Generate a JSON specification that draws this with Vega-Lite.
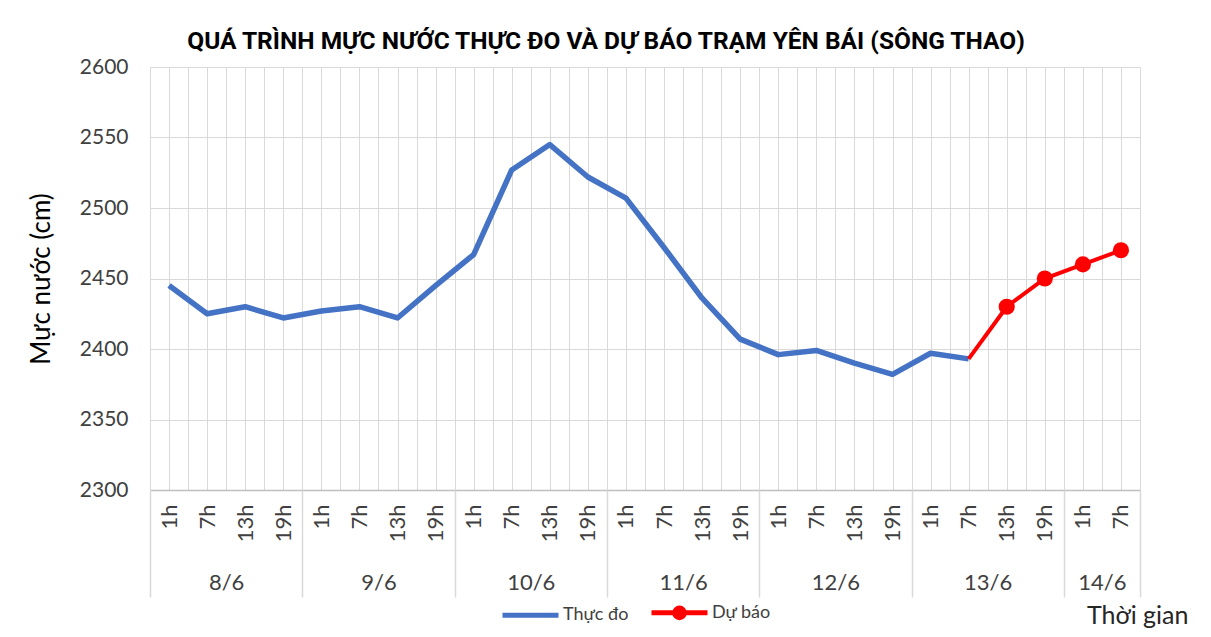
{
  "$schema": "https://vega.github.io/schema/vega-lite/v6.json",
  "autosize": "none",
  "width": 990,
  "height": 423,
  "padding": {"left": 150, "top": 67, "right": 71, "bottom": 147},
  "background": "white",
  "config": {"font": "Lato", "view": {"stroke": null}},
  "title": {
    "text": "QUÁ TRÌNH MỰC NƯỚC THỰC ĐO VÀ DỰ BÁO TRẠM YÊN BÁI (SÔNG THAO)",
    "font": "Liberation Sans Narrow, Roboto",
    "fontSize": 24.5,
    "fontWeight": "bold",
    "color": "#000000",
    "anchor": "middle",
    "dx": -39,
    "offset": 2
  },
  "data": {
    "values": [
      {"t": 0, "date": "8/6", "hour": "1h", "value": 2445, "series": "Thực đo"},
      {"t": 1, "date": "8/6", "hour": "7h", "value": 2425, "series": "Thực đo"},
      {"t": 2, "date": "8/6", "hour": "13h", "value": 2430, "series": "Thực đo"},
      {"t": 3, "date": "8/6", "hour": "19h", "value": 2422, "series": "Thực đo"},
      {"t": 4, "date": "9/6", "hour": "1h", "value": 2427, "series": "Thực đo"},
      {"t": 5, "date": "9/6", "hour": "7h", "value": 2430, "series": "Thực đo"},
      {"t": 6, "date": "9/6", "hour": "13h", "value": 2422, "series": "Thực đo"},
      {"t": 7, "date": "9/6", "hour": "19h", "value": 2445, "series": "Thực đo"},
      {"t": 8, "date": "10/6", "hour": "1h", "value": 2467, "series": "Thực đo"},
      {"t": 9, "date": "10/6", "hour": "7h", "value": 2527, "series": "Thực đo"},
      {"t": 10, "date": "10/6", "hour": "13h", "value": 2545, "series": "Thực đo"},
      {"t": 11, "date": "10/6", "hour": "19h", "value": 2522, "series": "Thực đo"},
      {"t": 12, "date": "11/6", "hour": "1h", "value": 2507, "series": "Thực đo"},
      {"t": 13, "date": "11/6", "hour": "7h", "value": 2472, "series": "Thực đo"},
      {"t": 14, "date": "11/6", "hour": "13h", "value": 2436, "series": "Thực đo"},
      {"t": 15, "date": "11/6", "hour": "19h", "value": 2407, "series": "Thực đo"},
      {"t": 16, "date": "12/6", "hour": "1h", "value": 2396, "series": "Thực đo"},
      {"t": 17, "date": "12/6", "hour": "7h", "value": 2399, "series": "Thực đo"},
      {"t": 18, "date": "12/6", "hour": "13h", "value": 2390, "series": "Thực đo"},
      {"t": 19, "date": "12/6", "hour": "19h", "value": 2382, "series": "Thực đo"},
      {"t": 20, "date": "13/6", "hour": "1h", "value": 2397, "series": "Thực đo"},
      {"t": 21, "date": "13/6", "hour": "7h", "value": 2393, "series": "Thực đo"},
      {"t": 21, "date": "13/6", "hour": "7h", "value": 2393, "series": "Dự báo", "marker": false},
      {"t": 22, "date": "13/6", "hour": "13h", "value": 2430, "series": "Dự báo", "marker": true},
      {"t": 23, "date": "13/6", "hour": "19h", "value": 2450, "series": "Dự báo", "marker": true},
      {"t": 24, "date": "14/6", "hour": "1h", "value": 2460, "series": "Dự báo", "marker": true},
      {"t": 25, "date": "14/6", "hour": "7h", "value": 2470, "series": "Dự báo", "marker": true}
    ]
  },
  "resolve": {"axis": {"x": "independent"}},
  "layer": [
    {
      "transform": [{"filter": "datum.series === 'Thực đo'"}],
      "mark": {"type": "line", "strokeWidth": 5.5, "strokeJoin": "round"},
      "encoding": {
        "x": {
          "field": "t", "type": "quantitative",
          "scale": {"domain": [-0.5, 25.5], "nice": false, "zero": false},
          "axis": {
            "orient": "bottom",
            "title": null,
            "values": [-0.5,0,0.5,1,1.5,2,2.5,3,3.5,4,4.5,5,5.5,6,6.5,7,7.5,8,8.5,9,9.5,10,10.5,11,11.5,12,12.5,13,13.5,14,14.5,15,15.5,16,16.5,17,17.5,18,18.5,19,19.5,20,20.5,21,21.5,22,22.5,23,23.5,24,24.5,25,25.5],
            "labelExpr": "datum.value % 1 === 0 ? ['1h','7h','13h','19h'][datum.value % 4] : ''",
            "labelAngle": -90,
            "labelFontSize": 22,
            "labelColor": "#404040",
            "labelPadding": 14,
            "labelOverlap": false,
            "labelFlush": false,
            "ticks": false,
            "grid": true,
            "gridColor": "#d9d9d9",
            "gridWidth": 1,
            "domainColor": "#bfbfbf",
            "domainWidth": 1.5
          }
        },
        "y": {
          "field": "value", "type": "quantitative",
          "scale": {"domain": [2300, 2600], "nice": false, "zero": false},
          "axis": {
            "title": "Mực nước (cm)",
            "titleFontSize": 26,
            "titleFontWeight": "normal",
            "titleColor": "#000000",
            "titlePadding": 25,
            "values": [2300, 2350, 2400, 2450, 2500, 2550, 2600],
            "format": "d",
            "labelFontSize": 21,
            "labelColor": "#404040",
            "labelPadding": 22,
            "ticks": false,
            "domain": false,
            "grid": true,
            "gridColor": "#d9d9d9",
            "gridWidth": 1
          }
        },
        "color": {
          "field": "series", "type": "nominal",
          "scale": {"domain": ["Thực đo", "Dự báo"], "range": ["#4472C4", "#FF0000"]},
          "legend": {
            "title": null,
            "orient": "none",
            "direction": "horizontal",
            "legendX": 350,
            "legendY": 515,
            "symbolType": "stroke",
            "symbolSize": 3136,
            "symbolStrokeWidth": 5,
            "labelFontSize": 18,
            "labelColor": "#404040",
            "labelOffset": 2,
            "columnPadding": 12,
            "encode": {
              "symbols": {
                "update": {
                  "shape": {"signal": "datum.value === 'Dự báo' ? 'M-1,0L1,0M-0.17,0A0.17,0.17 0 1 1 0.17,0A0.17,0.17 0 1 1 -0.17,0Z' : 'stroke'"},
                  "fill": {"signal": "datum.value === 'Dự báo' ? '#FF0000' : 'transparent'"}
                }
              }
            }
          }
        }
      }
    },
    {
      "transform": [{"filter": "datum.series === 'Dự báo'"}],
      "mark": {"type": "line", "strokeWidth": 4},
      "encoding": {
        "x": {
          "field": "t", "type": "quantitative",
          "scale": {"domain": [-0.5, 25.5], "nice": false, "zero": false},
          "axis": {
            "orient": "bottom",
            "title": null,
            "values": [1.5, 5.5, 9.5, 13.5, 17.5, 21.5, 24.5],
            "labelExpr": "['8/6','9/6','10/6','11/6','12/6','13/6','14/6'][floor((datum.value + 0.5) / 4)]",
            "labelFontSize": 22,
            "labelColor": "#404040",
            "labelBaseline": "middle",
            "labelPadding": 92,
            "labelFlush": false,
            "labelOverlap": false,
            "ticks": false,
            "domain": false,
            "grid": false
          }
        },
        "y": {"field": "value", "type": "quantitative", "scale": {"domain": [2300, 2600], "nice": false, "zero": false}},
        "color": {"field": "series", "type": "nominal", "scale": {"domain": ["Thực đo", "Dự báo"], "range": ["#4472C4", "#FF0000"]}}
      }
    },
    {
      "transform": [{"filter": "datum.series === 'Dự báo' && datum.marker"}],
      "mark": {"type": "point", "filled": true, "size": 260, "opacity": 1, "color": "#FF0000"},
      "encoding": {
        "x": {
          "field": "t", "type": "quantitative",
          "scale": {"domain": [-0.5, 25.5], "nice": false, "zero": false},
          "axis": {
            "orient": "bottom",
            "title": "Thời gian",
            "titleFontSize": 25,
            "titleFontWeight": "normal",
            "titleColor": "#262626",
            "titleAnchor": "end",
            "titleAlign": "right",
            "titleBaseline": "middle",
            "titleX": 1038,
            "titleY": 125,
            "values": [-0.5, 3.5, 7.5, 11.5, 15.5, 19.5, 23.5, 25.5],
            "labels": false,
            "ticks": true,
            "tickSize": 107,
            "tickColor": "#d9d9d9",
            "tickWidth": 1.5,
            "domain": false,
            "grid": false
          }
        },
        "y": {"field": "value", "type": "quantitative", "scale": {"domain": [2300, 2600], "nice": false, "zero": false}}
      }
    }
  ]
}
